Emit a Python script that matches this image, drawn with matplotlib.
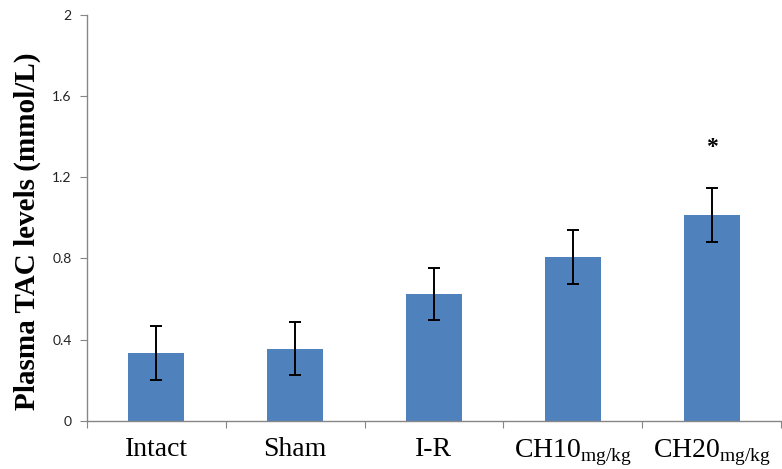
import matplotlib.pyplot as plt
import numpy as np

# Data
groups = ['Intact', 'Sham', 'I-R', 'CH10', 'CH20']
subscripts = ['', '', '', 'mg/kg', 'mg/kg']
tac_means = [0.335, 0.355, 0.625, 0.808, 1.015]
tac_err = [0.133, 0.130, 0.130, 0.133, 0.132]
significant = [False, False, False, False, True]
y_ticks = [0, 0.4, 0.8, 1.2, 1.6, 2]

bar_color = '#4F81BD'
axis_color = '#868686'

fig = plt.figure(figsize=(7.82, 4.69), dpi=100)
ax = fig.add_axes([0.111, 0.103, 0.888, 0.865])

x = np.arange(len(groups))
ax.bar(x, tac_means, width=0.4, color=bar_color, zorder=2)
ax.errorbar(x, tac_means, yerr=tac_err, fmt='none', ecolor='black',
            elinewidth=1.4, capsize=4, capthick=1.4, zorder=3)

# Significance marker
for xi, m, e, s in zip(x, tac_means, tac_err, significant):
    if s:
        ax.text(xi, m + e + 0.2, '*', ha='center', va='center',
                fontsize=17, fontweight='bold', fontfamily='Liberation Serif')

ax.set_xlim(-0.5, len(groups) - 0.5)
ax.set_ylim(0, 2)
ax.set_yticks(y_ticks)
ax.set_yticklabels([f'{t:g}' for t in y_ticks], fontfamily='Lato',
                   fontsize=10, color='#222222')

# Ticks on category boundaries, labels in the middle
ax.set_xticks(np.arange(len(groups) + 1) - 0.5)
ax.set_xticklabels([])
ax.set_xticks(x, minor=True)
labels = [g + (r'$_{\mathregular{' + s + '}}$' if s else '')
          for g, s in zip(groups, subscripts)]
ax.set_xticklabels(labels, minor=True, fontfamily='Liberation Serif',
                   fontsize=20, color='black')
ax.tick_params(axis='x', which='minor', length=0, pad=12)
ax.tick_params(axis='x', which='major', length=5, color=axis_color, direction='out')
ax.tick_params(axis='y', length=5, color=axis_color, direction='out', pad=6)

for side in ['top', 'right']:
    ax.spines[side].set_visible(False)
for side in ['left', 'bottom']:
    ax.spines[side].set_color(axis_color)
    ax.spines[side].set_linewidth(1.0)

ax.set_ylabel('Plasma TAC levels (mmol/L)', fontfamily='Liberation Serif',
              fontsize=21, fontweight='bold', labelpad=8)
ax.yaxis.label.set_y(0.468)

plt.savefig('out.png', dpi=100, facecolor='white')
